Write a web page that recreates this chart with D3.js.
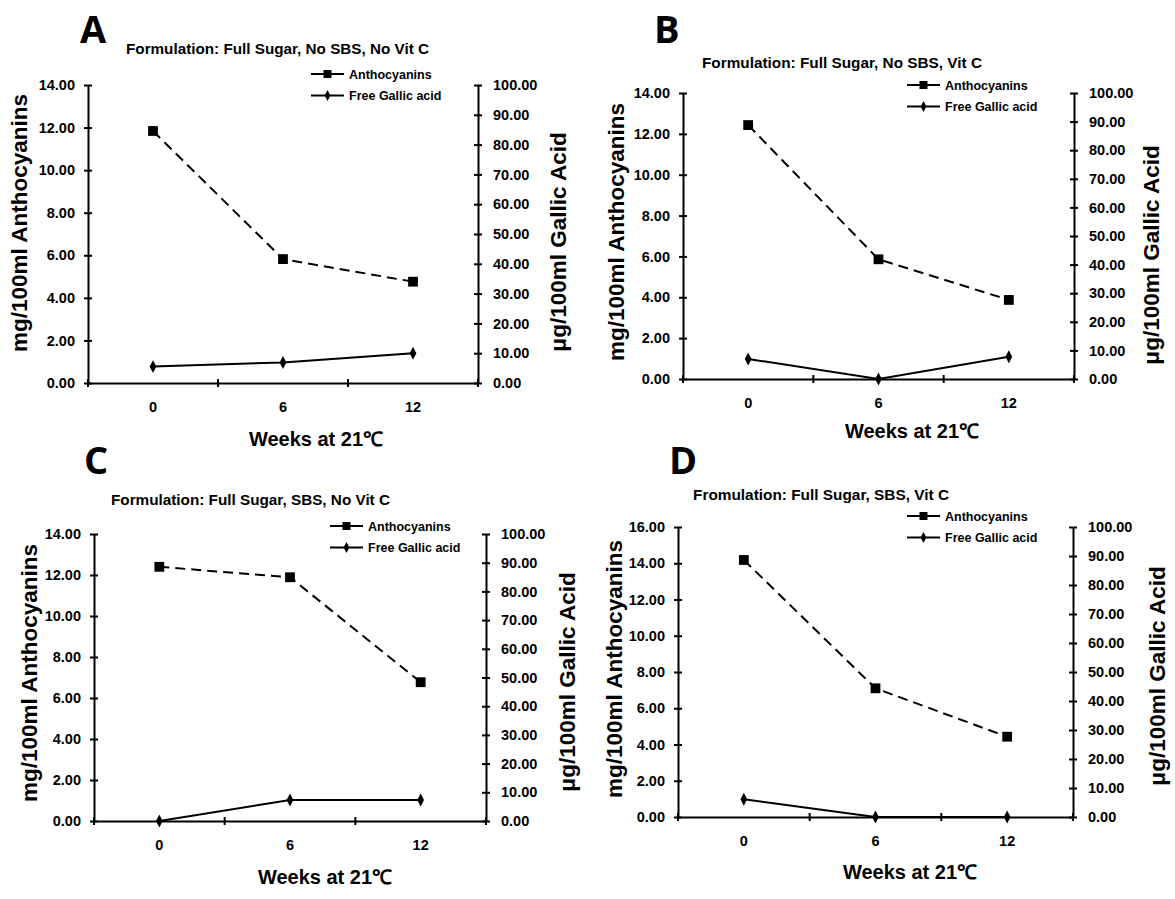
<!DOCTYPE html>
<html>
<head>
<meta charset="utf-8">
<script src="https://cdn.jsdelivr.net/npm/d3@7"></script>
<style>
  html, body { margin: 0; padding: 0; background: #fff; }
  svg { display: block; }
  text { font-family: "Liberation Sans", Arial, sans-serif; font-weight: bold; fill: #000; }
</style>
</head>
<body>
<svg id="chart" width="1175" height="899"></svg>
<script>
// ---------------- data ----------------
const weeks = ["0", "6", "12"];
const panelLetters = ["A", "B", "C", "D"];
const panelTitles = [
  "Formulation: Full Sugar, No SBS, No Vit C",
  "Formulation: Full Sugar, No SBS, Vit C",
  "Formulation: Full Sugar, SBS, No Vit C",
  "Fromulation: Full Sugar, SBS, Vit C"
];
const seriesNames = ["Anthocyanins", "Free Gallic acid"];
const anthocyaninsA = [11.84, 5.82, 4.76];
const gallicA = [5.5, 6.9, 10.0];
const anthocyaninsB = [12.43, 5.86, 3.87];
const gallicB = [7.0, 0.0, 7.8];
const anthocyaninsC = [12.40, 11.89, 6.77];
const gallicC = [0.0, 7.3, 7.3];
const anthocyaninsD = [14.18, 7.10, 4.43];
const gallicD = [6.1, 0.0, 0.0];
const leftAxisMax = [14, 14, 14, 16];
const leftTickStep = 2;
const rightAxisMax = 100;
const rightTickStep = 10;
const xTitle = "Weeks at 21\u2103";
const leftTitle = "mg/100ml Anthocyanins";
const rightTitle = "\u03bcg/100ml Gallic Acid";

// ---------------- layout (positions/styles) ----------------
const layout = [
  { l: 88,  r: 478,  t: 85,  b: 383, letter: [80, 43],  title: [126, 54, 303], legend: [311, 74],
    leftLab: [19, 223], rightLab: [558, 242], xLab: [316, 446] },
  { l: 683, r: 1074, t: 93,  b: 379, letter: [654, 43], title: [702, 68, 280], legend: [907, 85],
    leftLab: [616, 232], rightLab: [1151, 255], xLab: [912, 438] },
  { l: 94,  r: 486,  t: 534, b: 821, letter: [84, 474], title: [111, 505, 279], legend: [330, 526],
    leftLab: [29, 673], rightLab: [567, 682], xLab: [325, 884] },
  { l: 678, r: 1073, t: 527, b: 817, letter: [669, 474], title: [693, 500, 256], legend: [907, 516],
    leftLab: [614, 669], rightLab: [1157, 676], xLab: [910, 879] }
];

const anthSeries = [anthocyaninsA, anthocyaninsB, anthocyaninsC, anthocyaninsD];
const gallicSeries = [gallicA, gallicB, gallicC, gallicD];

const svg = d3.select("#chart");
const square = d3.symbol().type(d3.symbolSquare).size(96);
const diamond = d3.symbol().type(d3.symbolDiamond).size(44);

layout.forEach((L, i) => {
  const g = svg.append("g");

  const x = d3.scaleBand().domain(weeks).range([L.l, L.r]).padding(0);
  const yL = d3.scaleLinear().domain([0, leftAxisMax[i]]).range([L.b, L.t]);
  const yR = d3.scaleLinear().domain([0, rightAxisMax]).range([L.b, L.t]);

  // panel letter
  g.append("text")
    .attr("x", L.letter[0]).attr("y", L.letter[1])
    .style("font-family", "'Open Sans', 'DejaVu Sans', sans-serif")
    .style("font-size", "38px").style("font-weight", "bold")
    .text(panelLetters[i]);

  // title
  g.append("text")
    .attr("x", L.title[0]).attr("y", L.title[1])
    .attr("textLength", L.title[2]).attr("lengthAdjust", "spacingAndGlyphs")
    .style("font-size", "14px")
    .text(panelTitles[i]);

  // left axis
  const leftTicks = d3.range(0, leftAxisMax[i] + 0.001, leftTickStep);
  const ax = g.append("g").attr("transform", `translate(${L.l},0)`)
    .call(d3.axisLeft(yL).tickValues(leftTicks).tickFormat(d3.format(".2f")).tickSizeOuter(0).tickSizeInner(4).tickPadding(9));
  ax.select(".domain").attr("stroke", "#000").attr("stroke-width", 2);
  ax.selectAll(".tick line").attr("x1", 4).attr("x2", -4).attr("stroke", "#000").attr("stroke-width", 2);
  ax.selectAll(".tick text").style("font-size", "14.5px").style("font-family", "'Liberation Sans', Arial, sans-serif").style("font-weight", "bold");

  // right axis
  const rightTicks = d3.range(0, rightAxisMax + 0.001, rightTickStep);
  const ar = g.append("g").attr("transform", `translate(${L.r},0)`)
    .call(d3.axisRight(yR).tickValues(rightTicks).tickFormat(d3.format(".2f")).tickSizeOuter(0).tickSizeInner(4).tickPadding(11));
  ar.select(".domain").attr("stroke", "#000").attr("stroke-width", 2);
  ar.selectAll(".tick line").attr("x1", -4).attr("x2", 4).attr("stroke", "#000").attr("stroke-width", 2);
  ar.selectAll(".tick text").style("font-size", "14.5px").style("font-family", "'Liberation Sans', Arial, sans-serif").style("font-weight", "bold");

  // bottom axis: labels at band centres, ticks at band boundaries
  const axb = g.append("g").attr("transform", `translate(0,${L.b})`)
    .call(d3.axisBottom(x).tickSize(0).tickPadding(19));
  axb.select(".domain").attr("stroke", "#000").attr("stroke-width", 2);
  axb.selectAll(".tick text").style("font-size", "14.5px").style("font-family", "'Liberation Sans', Arial, sans-serif").style("font-weight", "bold");
  const bounds = weeks.map(w => x(w)).concat([x.range()[1]]);
  axb.selectAll("line.bt").data(bounds).enter().append("line")
    .attr("class", "bt")
    .attr("x1", d => d).attr("x2", d => d).attr("y1", -4).attr("y2", 4)
    .attr("stroke", "#000").attr("stroke-width", 2);

  const cx = w => x(w) + x.bandwidth() / 2;

  // Gallic acid series (right axis)
  const gData = weeks.map((w, k) => ({ w, v: gallicSeries[i][k] }));
  g.append("path").datum(gData)
    .attr("fill", "none").attr("stroke", "#000").attr("stroke-width", 2)
    .attr("d", d3.line().x(d => cx(d.w)).y(d => yR(d.v)));
  g.selectAll("path.dm").data(gData).enter().append("path")
    .attr("class", "dm")
    .attr("d", diamond)
    .attr("transform", d => `translate(${cx(d.w)},${yR(d.v)}) scale(0.95,1.05)`)
    .attr("fill", "#000");

  // Anthocyanins series (left axis)
  const aData = weeks.map((w, k) => ({ w, v: anthSeries[i][k] }));
  g.append("path").datum(aData)
    .attr("fill", "none").attr("stroke", "#000").attr("stroke-width", 2)
    .attr("stroke-dasharray", "10,6")
    .attr("d", d3.line().x(d => cx(d.w)).y(d => yL(d.v)));
  g.selectAll("path.sq").data(aData).enter().append("path")
    .attr("class", "sq")
    .attr("d", square)
    .attr("transform", d => `translate(${cx(d.w)},${yL(d.v)})`)
    .attr("fill", "#000");

  // legend
  const lg = g.append("g").attr("transform", `translate(${L.legend[0]},${L.legend[1]})`);
  seriesNames.forEach((name, k) => {
    const yy = k * 21.5;
    lg.append("line").attr("x1", 0).attr("x2", 33).attr("y1", yy).attr("y2", yy)
      .attr("stroke", "#000").attr("stroke-width", 2);
    lg.append("path")
      .attr("d", k === 0 ? d3.symbol().type(d3.symbolSquare).size(64) : d3.symbol().type(d3.symbolDiamond).size(32))
      .attr("transform", `translate(16.5,${yy})` + (k === 1 ? " scale(0.95,1.05)" : ""))
      .attr("fill", "#000");
    lg.append("text").attr("x", 38).attr("y", yy).attr("dy", "0.36em")
      .style("font-size", "12.5px").text(name);
  });

  // axis titles
  g.append("text")
    .attr("transform", `translate(${L.leftLab[0]},${L.leftLab[1]}) rotate(-90)`)
    .attr("text-anchor", "middle").attr("dy", "0.35em")
    .style("font-size", "22.5px").text(leftTitle);
  g.append("text")
    .attr("transform", `translate(${L.rightLab[0]},${L.rightLab[1]}) rotate(-90)`)
    .attr("text-anchor", "middle").attr("dy", "0.35em")
    .style("font-size", "22.5px").text(rightTitle);
  g.append("text")
    .attr("x", L.xLab[0]).attr("y", L.xLab[1])
    .attr("text-anchor", "middle")
    .style("font-size", "20px").text(xTitle);
});
</script>
</body>
</html>
